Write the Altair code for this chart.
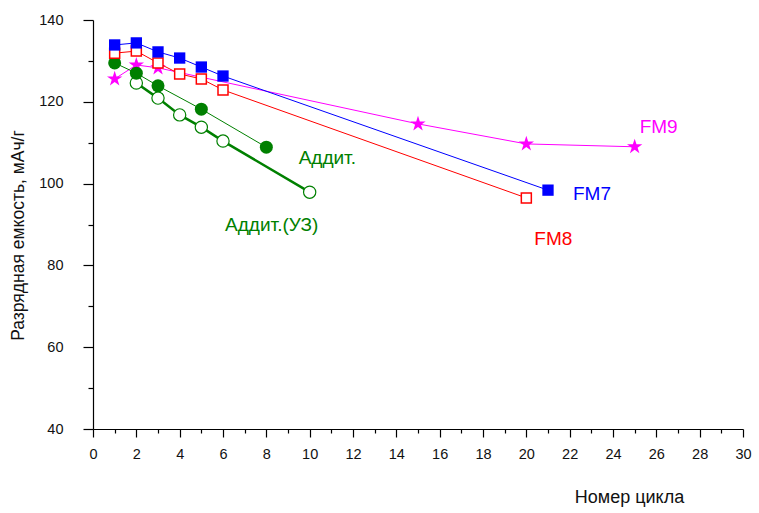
import altair as alt
import pandas as pd

# Discharge capacity (mAh/g) vs. cycle number
fm7_cycle = [1, 2, 3, 4, 5, 6, 21]
fm7_cap = [133.9, 134.4, 132.2, 130.7, 128.5, 126.3, 98.4]

fm8_cycle = [1, 2, 3, 4, 5, 6, 20]
fm8_cap = [131.9, 132.4, 129.5, 126.8, 125.6, 122.9, 96.5]

fm9_cycle = [1, 2, 3, 15, 20, 25]
fm9_cap = [125.6, 129.0, 128.3, 114.6, 109.7, 109.0]

add_cycle = [1, 2, 3, 5, 8]
add_cap = [129.5, 127.0, 123.9, 118.2, 108.9]

addus_cycle = [2, 3, 4, 5, 6, 10]
addus_cap = [124.6, 120.9, 116.8, 113.8, 110.4, 97.9]

x_ticks = list(range(0, 31))
y_ticks = list(range(40, 141, 10))

FONT = "Liberation Sans"
STAR = ("M0,-1L0.2245,-0.309L0.951,-0.309L0.363,0.118L0.588,0.809L0,0.382"
        "L-0.588,0.809L-0.363,0.118L-0.951,-0.309L-0.2245,-0.309Z")

x_enc = alt.X(
    "cycle:Q",
    scale=alt.Scale(domain=[0, 30], nice=False, zero=False),
    axis=alt.Axis(
        values=x_ticks,
        labelExpr="datum.value % 2 === 0 ? datum.label : ''",
        tickSize={"condition": {"test": "datum.value % 2 === 0", "value": 8}, "value": 4},
        labelPadding=10,
        labelFlush=False,
        title="Номер цикла",
        titleX=536,
        titleY=68,
        titleAlign="center",
        titleBaseline="middle",
        titleFontSize=18,
    ),
)
y_enc = alt.Y(
    "cap:Q",
    scale=alt.Scale(domain=[40, 140], nice=False, zero=False),
    axis=alt.Axis(
        values=y_ticks,
        labelExpr="datum.value % 20 === 0 ? datum.label : ''",
        tickSize={"condition": {"test": "datum.value % 20 === 0", "value": 10}, "value": 5},
        labelPadding=20,
        labelFlush=False,
        title="Разрядная емкость, мАч/г",
        titleX=-75,
        titleY=215,
        titleAlign="center",
        titleBaseline="middle",
        titleFontSize=17.5,
    ),
)


def series(cycles, caps, color, shape, size, filled, line_width, label, dx, dy,
           stroke_width=1.2):
    df = pd.DataFrame({"cycle": cycles, "cap": caps})
    line = alt.Chart(df).mark_line(color=color, strokeWidth=line_width).encode(x=x_enc, y=y_enc)
    pts = alt.Chart(df).mark_point(
        shape=shape,
        size=size,
        filled=True,
        fill=color if filled else "white",
        stroke=color,
        strokeWidth=0 if filled else stroke_width,
        opacity=1,
    ).encode(x=x_enc, y=y_enc)
    last = df.tail(1).assign(name=label)
    txt = alt.Chart(last).mark_text(
        font=FONT, fontSize=19, color=color, dx=dx, dy=dy,
        align="center", baseline="middle",
    ).encode(x=x_enc, y=y_enc, text="name:N")
    return [line, pts, txt]


layers = []
layers += series(fm9_cycle, fm9_cap, "#FF00FF", STAR, 260, True, 1, "FM9", 24, -20)
layers += series(addus_cycle, addus_cap, "#008000", "circle", 150, False, 2.5, "Аддит.(УЗ)", -38, 33)
layers += series(add_cycle, add_cap, "#008000", "circle", 169, True, 1, "Аддит.", 61, 11)
layers += series(fm8_cycle, fm8_cap, "#FF0000", "square", 100, False, 1, "FM8", 27, 41, 1.5)
layers += series(fm7_cycle, fm7_cap, "#0000FF", "square", 128, True, 1, "FM7", 44, 4)

chart = alt.layer(*layers).properties(
    width=650,
    height=409,
    autosize=alt.AutoSizeParams(type="none"),
    padding={"left": 93, "top": 20, "right": 16, "bottom": 84},
).configure_view(
    stroke=None
).configure_axis(
    grid=False,
    domainColor="black",
    domainWidth=1.2,
    tickColor="black",
    tickWidth=1.2,
    labelFont=FONT,
    labelFontSize=14.5,
    labelColor="#111111",
    titleFont=FONT,
    titleFontWeight="normal",
    titleColor="#111111",
)

chart.save("out.html", embed_options={"renderer": "svg", "actions": False})
